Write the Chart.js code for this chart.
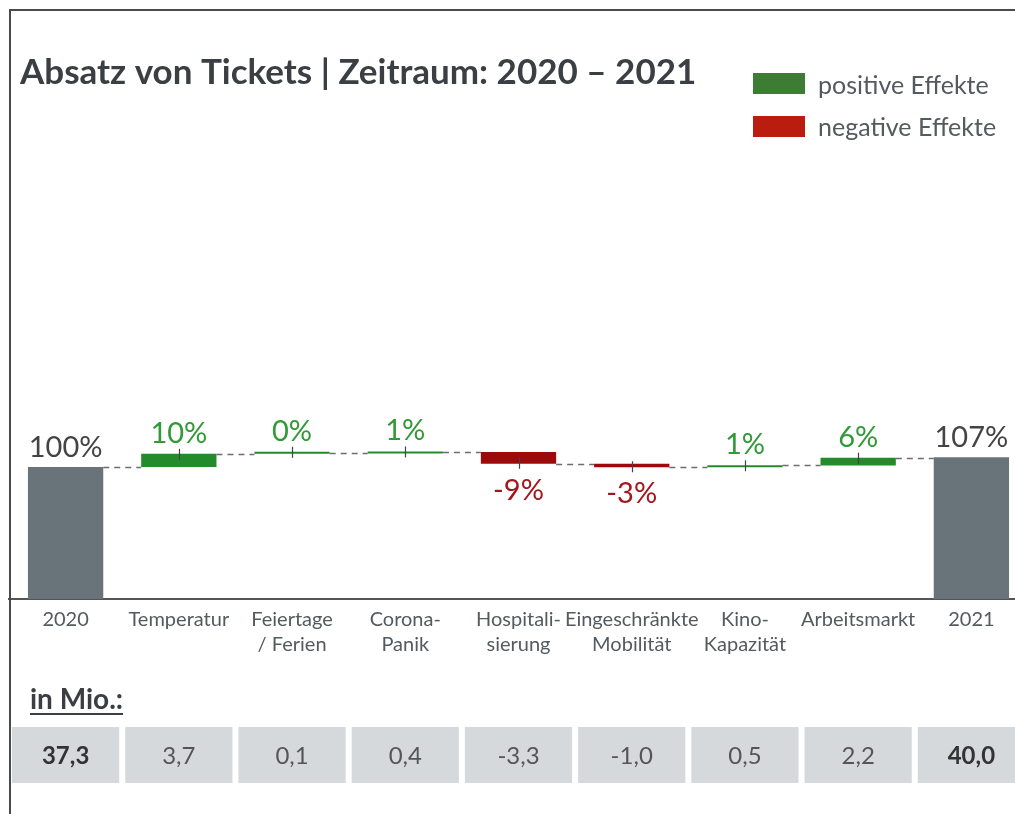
<!DOCTYPE html>
<html>
<head>
<meta charset="utf-8">
<script src="https://cdn.jsdelivr.net/npm/chart.js@4.4.1/dist/chart.umd.min.js"></script>
<style>
  html, body { margin: 0; padding: 0; background: #fff; overflow: hidden; }
  #wrap { position: absolute; left: 0; top: 0; width: 1040px; height: 814px; }
  #frame { position: absolute; left: 9px; top: 9px; width: 1100px; height: 900px;
           border-left: 2px solid #4a4a4a; border-top: 2px solid #4a4a4a; pointer-events: none; }
</style>
</head>
<body>
<div id="wrap">
  <canvas id="waterfall" width="1040" height="814"></canvas>
  <div id="frame"></div>
</div>
<script>
const chartTitle = 'Absatz von Tickets | Zeitraum: 2020 \u2013 2021'
const categories = ['2020', 'Temperatur', ['Feiertage', '/ Ferien'], ['Corona-', 'Panik'], ['Hospitali-', 'sierung'],
  ['Eingeschränkte', 'Mobilität'], ['Kino-', 'Kapazität'], 'Arbeitsmarkt', '2021']
const mioValues = [37.3, 3.7, 0.1, 0.4, -3.3, -1.0, 0.5, 2.2, 40.0]
const percentLabels = ['100%', '10%', '0%', '1%', '-9%', '-3%', '1%', '6%', '107%']
const isTotal = [true, false, false, false, false, false, false, false, true]
const legendLabels = ['positive Effekte', 'negative Effekte']

const totalColor = '#69737a'
const posColor = '#238b2b'
const negColor = '#9c0a0a'

// floating bars: totals start at 0, effects start at the running sum
const barData = []
const runTotals = []
let run = 0
mioValues.forEach((v, i) => {
  if (isTotal[i]) {
    barData.push([0, v])
    run = v
  } else {
    barData.push([run, run + v])
    run = run + v
  }
  runTotals.push(run)
})
const barColors = mioValues.map((v, i) => isTotal[i] ? totalColor : (v >= 0 ? posColor : negColor))

const fmt = v => v.toFixed(1).replace('.', ',')

const waterfallExtras = {
  id: 'waterfallExtras',
  afterDatasetsDraw(chart) {
    const ctx = chart.ctx
    const ys = chart.scales.y
    const bars = chart.getDatasetMeta(0).data
    ctx.save()

    // dashed connectors
    ctx.strokeStyle = '#6d6d6d'
    ctx.lineWidth = 1.5
    ctx.setLineDash([6, 5])
    for (let i = 0; i < bars.length - 1; i++) {
      const y = Math.round(ys.getPixelForValue(runTotals[i])) + 0.5
      ctx.beginPath()
      ctx.moveTo(bars[i].x + bars[i].width / 2, y)
      ctx.lineTo(bars[i + 1].x - bars[i + 1].width / 2, y)
      ctx.stroke()
    }
    ctx.setLineDash([])

    // little ticks + percentage labels
    ctx.textAlign = 'center'
    ctx.textBaseline = 'alphabetic'
    ctx.font = '29px Lato'
    bars.forEach((bar, i) => {
      const v = mioValues[i]
      const top = Math.min(bar.y, bar.base)
      const bottom = Math.max(bar.y, bar.base)
      if (!isTotal[i]) {
        ctx.strokeStyle = '#444'
        ctx.lineWidth = 1.2
        ctx.beginPath()
        if (v >= 0) {
          ctx.moveTo(Math.round(bar.x) + 0.5, top - 5)
          ctx.lineTo(Math.round(bar.x) + 0.5, top + 6)
        } else {
          ctx.moveTo(Math.round(bar.x) + 0.5, bottom + 5)
          ctx.lineTo(Math.round(bar.x) + 0.5, bottom - 6)
        }
        ctx.stroke()
      }
      if (isTotal[i]) {
        ctx.fillStyle = '#444'
        ctx.fillText(percentLabels[i], bar.x, top - 10)
      } else if (v >= 0) {
        ctx.fillStyle = '#2f9a36'
        ctx.fillText(percentLabels[i], bar.x, top - 11)
      } else {
        ctx.fillStyle = '#a3161b'
        ctx.fillText(percentLabels[i], bar.x, bottom + 36)
      }
    })
    ctx.restore()
  },
  afterDraw(chart) {
    const ctx = chart.ctx
    const xs = chart.scales.x
    ctx.save()

    // title
    ctx.textAlign = 'left'
    ctx.textBaseline = 'alphabetic'
    ctx.fillStyle = '#3b3f44'
    ctx.font = 'bold 35px Lato'
    ctx.fillText(chartTitle, 20, 84)

    // legend
    ctx.fillStyle = '#3d7d33'
    ctx.fillRect(753, 73, 52, 21)
    ctx.fillStyle = '#ba1c10'
    ctx.fillRect(753, 116, 52, 21)
    ctx.fillStyle = '#555a5e'
    ctx.font = '25px Lato'
    ctx.fillText(legendLabels[0], 818, 94)
    ctx.fillText(legendLabels[1], 818, 136)

    // "in Mio.:" heading
    ctx.fillStyle = '#3b3f44'
    ctx.font = 'bold 28px Lato'
    ctx.fillText('in Mio.:', 30, 709)
    const w = ctx.measureText('in Mio.:').width
    ctx.fillRect(30, 713, w, 2)

    // value table under the axis
    const slot = xs.width / categories.length
    ctx.textAlign = 'center'
    categories.forEach((c, i) => {
      const left = xs.left + slot * i + 3
      ctx.fillStyle = '#d6d9dc'
      ctx.fillRect(left, 727, slot - 6, 56)
      ctx.fillStyle = isTotal[i] ? '#333' : '#555'
      ctx.font = (isTotal[i] ? 'bold ' : '') + '24px Lato'
      ctx.fillText(fmt(mioValues[i]), xs.getPixelForValue(i), 764)
    })
    ctx.restore()
  }
}

const canvas = document.getElementById('waterfall')
const chart = new Chart(canvas, {
  type: 'bar',
  data: {
    labels: categories,
    datasets: [{
      data: barData,
      backgroundColor: barColors,
      barPercentage: 0.665,
      categoryPercentage: 1,
      minBarLength: 2
    }]
  },
  options: {
    responsive: false,
    animation: false,
    layout: { padding: { left: 9, right: 12, top: 174, bottom: 155 } },
    plugins: {
      legend: { display: false },
      tooltip: { enabled: false }
    },
    scales: {
      x: {
        grid: { display: false, drawTicks: false },
        border: { display: true, color: '#555', width: 2 },
        ticks: {
          font: { family: 'Lato', size: 20, lineHeight: 1.25 },
          color: '#555a5e',
          padding: 8,
          maxRotation: 0,
          autoSkip: false
        },
        afterFit: scale => { scale.height = 60 }
      },
      y: { display: false, min: 0, max: 120 }
    }
  },
  plugins: [waterfallExtras]
})
</script>
</body>
</html>
